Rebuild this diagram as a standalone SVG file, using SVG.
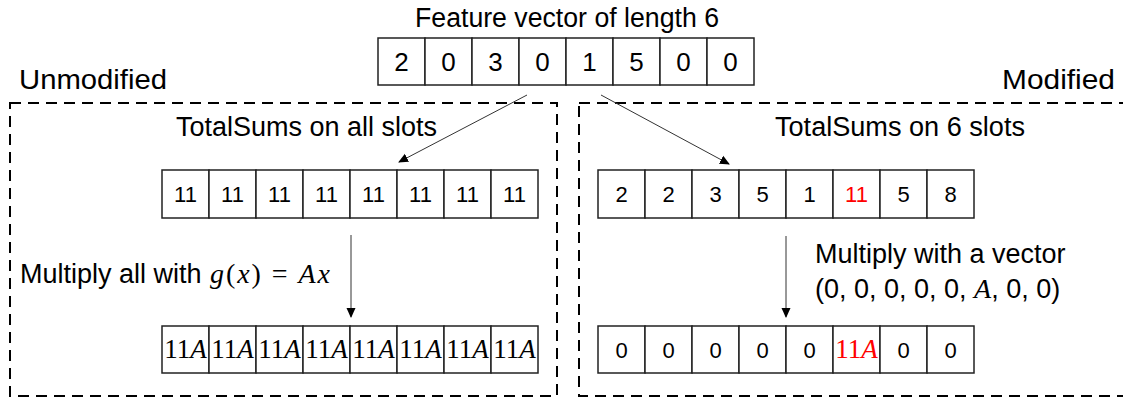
<svg xmlns="http://www.w3.org/2000/svg" width="1123" height="398" viewBox="0 0 1123 398">
  <style>
    .label { font-family: "Liberation Sans", Arial, sans-serif; font-size: 27px; fill: #000; }
    .big { font-size: 28px; }
    .cell { fill: #fff; stroke: #222; stroke-width: 1.5; }
    .num { font-family: "Liberation Sans", Arial, sans-serif; font-size: 22px; fill: #000; text-anchor: middle; }
    .numTop { font-size: 26px; }
    .math { font-family: "Liberation Serif", "Times New Roman", serif; font-size: 27px; fill: #000; text-anchor: middle; }
    .mathLabel { font-family: "Liberation Serif", "Times New Roman", serif; font-size: 28px; fill: #000; }
    .red { fill: #ff0000; }
    .dash { fill: none; stroke: #000; stroke-width: 2; stroke-dasharray: 11 7; }
    .conn { stroke: #333; stroke-width: 1; fill: none; marker-end: url(#tri); }
  </style>
  <defs>
    <marker id="tri" markerWidth="10" markerHeight="10" refX="9" refY="5" orient="auto" markerUnits="userSpaceOnUse">
      <path d="M0,0.5 L10,5 L0,9.5 Z" fill="#000"/>
    </marker>
  </defs>

  <rect width="1123" height="398" fill="#fff"/>

  <!-- dashed panels -->
  <g id="panels">
    <rect class="dash" x="10" y="103" width="547" height="293"/>
    <rect class="dash" x="579" y="103" width="560" height="293"/>
  </g>

  <!-- headings -->
  <g id="titles">
    <text class="label" x="567" y="27" text-anchor="middle" textLength="304" lengthAdjust="spacingAndGlyphs">Feature vector of length 6</text>
    <text class="label big" x="19" y="89" textLength="148" lengthAdjust="spacingAndGlyphs">Unmodified</text>
    <text class="label big" x="1002" y="89" textLength="113" lengthAdjust="spacingAndGlyphs">Modified</text>
    <text class="label" x="176" y="136" textLength="261" lengthAdjust="spacingAndGlyphs">TotalSums on all slots</text>
    <text class="label" x="775" y="136" textLength="250" lengthAdjust="spacingAndGlyphs">TotalSums on 6 slots</text>
  </g>

  <!-- input vector -->
  <g id="feature-vector">
    <rect class="cell" x="378" y="38" width="47" height="47"/>
    <rect class="cell" x="425" y="38" width="47" height="47"/>
    <rect class="cell" x="472" y="38" width="47" height="47"/>
    <rect class="cell" x="519" y="38" width="47" height="47"/>
    <rect class="cell" x="566" y="38" width="47" height="47"/>
    <rect class="cell" x="613" y="38" width="47" height="47"/>
    <rect class="cell" x="660" y="38" width="47" height="47"/>
    <rect class="cell" x="707" y="38" width="47" height="47"/>
    <text class="num numTop" x="401.5" y="71">2</text>
    <text class="num numTop" x="448.5" y="71">0</text>
    <text class="num numTop" x="495.5" y="71">3</text>
    <text class="num numTop" x="542.5" y="71">0</text>
    <text class="num numTop" x="589.5" y="71">1</text>
    <text class="num numTop" x="636.5" y="71">5</text>
    <text class="num numTop" x="683.5" y="71">0</text>
    <text class="num numTop" x="730.5" y="71">0</text>
  </g>

  <!-- unmodified: totals on all slots -->
  <g id="sums-all">
    <rect class="cell" x="162" y="170" width="47" height="48"/>
    <rect class="cell" x="209" y="170" width="47" height="48"/>
    <rect class="cell" x="256" y="170" width="47" height="48"/>
    <rect class="cell" x="303" y="170" width="47" height="48"/>
    <rect class="cell" x="350" y="170" width="47" height="48"/>
    <rect class="cell" x="397" y="170" width="47" height="48"/>
    <rect class="cell" x="444" y="170" width="47" height="48"/>
    <rect class="cell" x="491" y="170" width="47" height="48"/>
    <text class="num" x="185.5" y="202">11</text>
    <text class="num" x="232.5" y="202">11</text>
    <text class="num" x="279.5" y="202">11</text>
    <text class="num" x="326.5" y="202">11</text>
    <text class="num" x="373.5" y="202">11</text>
    <text class="num" x="420.5" y="202">11</text>
    <text class="num" x="467.5" y="202">11</text>
    <text class="num" x="514.5" y="202">11</text>
  </g>

  <!-- unmodified: result after g(x) -->
  <g id="result-all">
    <rect class="cell" x="162" y="326" width="47" height="47"/>
    <rect class="cell" x="209" y="326" width="47" height="47"/>
    <rect class="cell" x="256" y="326" width="47" height="47"/>
    <rect class="cell" x="303" y="326" width="47" height="47"/>
    <rect class="cell" x="350" y="326" width="47" height="47"/>
    <rect class="cell" x="397" y="326" width="47" height="47"/>
    <rect class="cell" x="444" y="326" width="47" height="47"/>
    <rect class="cell" x="491" y="326" width="47" height="47"/>
    <text class="math" x="185.5" y="358">11<tspan font-style="italic">A</tspan></text>
    <text class="math" x="232.5" y="358">11<tspan font-style="italic">A</tspan></text>
    <text class="math" x="279.5" y="358">11<tspan font-style="italic">A</tspan></text>
    <text class="math" x="326.5" y="358">11<tspan font-style="italic">A</tspan></text>
    <text class="math" x="373.5" y="358">11<tspan font-style="italic">A</tspan></text>
    <text class="math" x="420.5" y="358">11<tspan font-style="italic">A</tspan></text>
    <text class="math" x="467.5" y="358">11<tspan font-style="italic">A</tspan></text>
    <text class="math" x="514.5" y="358">11<tspan font-style="italic">A</tspan></text>
  </g>

  <!-- modified: totals on 6 slots -->
  <g id="sums-six">
    <rect class="cell" x="598" y="170" width="47" height="48"/>
    <rect class="cell" x="645" y="170" width="47" height="48"/>
    <rect class="cell" x="692" y="170" width="47" height="48"/>
    <rect class="cell" x="739" y="170" width="47" height="48"/>
    <rect class="cell" x="786" y="170" width="47" height="48"/>
    <rect class="cell" x="833" y="170" width="47" height="48"/>
    <rect class="cell" x="880" y="170" width="47" height="48"/>
    <rect class="cell" x="927" y="170" width="47" height="48"/>
    <text class="num" x="621.5" y="202">2</text>
    <text class="num" x="668.5" y="202">2</text>
    <text class="num" x="715.5" y="202">3</text>
    <text class="num" x="762.5" y="202">5</text>
    <text class="num" x="809.5" y="202">1</text>
    <text class="num red" x="856.5" y="202">11</text>
    <text class="num" x="903.5" y="202">5</text>
    <text class="num" x="950.5" y="202">8</text>
  </g>

  <!-- modified: masked result -->
  <g id="result-six">
    <rect class="cell" x="598" y="326" width="47" height="47"/>
    <rect class="cell" x="645" y="326" width="47" height="47"/>
    <rect class="cell" x="692" y="326" width="47" height="47"/>
    <rect class="cell" x="739" y="326" width="47" height="47"/>
    <rect class="cell" x="786" y="326" width="47" height="47"/>
    <rect class="cell" x="833" y="326" width="47" height="47"/>
    <rect class="cell" x="880" y="326" width="47" height="47"/>
    <rect class="cell" x="927" y="326" width="47" height="47"/>
    <text class="num" x="621.5" y="358">0</text>
    <text class="num" x="668.5" y="358">0</text>
    <text class="num" x="715.5" y="358">0</text>
    <text class="num" x="762.5" y="358">0</text>
    <text class="num" x="809.5" y="358">0</text>
    <text class="math red" x="856.5" y="358">11<tspan font-style="italic">A</tspan></text>
    <text class="num" x="903.5" y="358">0</text>
    <text class="num" x="950.5" y="358">0</text>
  </g>

  <!-- operation labels -->
  <g id="ops">
    <text class="label" x="20" y="283">Multiply all with</text>
    <text class="mathLabel" x="210" y="283" textLength="120" lengthAdjust="spacing"><tspan font-style="italic">g</tspan>(<tspan font-style="italic">x</tspan>) = <tspan font-style="italic">Ax</tspan></text>
    <text class="label" x="815" y="263">Multiply with a vector</text>
    <text class="label" x="815" y="298">(0, 0, 0, 0, 0, <tspan class="mathLabel" font-style="italic">A</tspan>, 0, 0)</text>
  </g>

  <!-- connectors -->
  <g id="connectors">
    <line class="conn" x1="527" y1="95" x2="399" y2="162"/>
    <line class="conn" x1="601" y1="95" x2="729" y2="164"/>
    <line class="conn" x1="351" y1="235" x2="351" y2="317"/>
    <line class="conn" x1="786" y1="236" x2="786" y2="317"/>
  </g>
</svg>
